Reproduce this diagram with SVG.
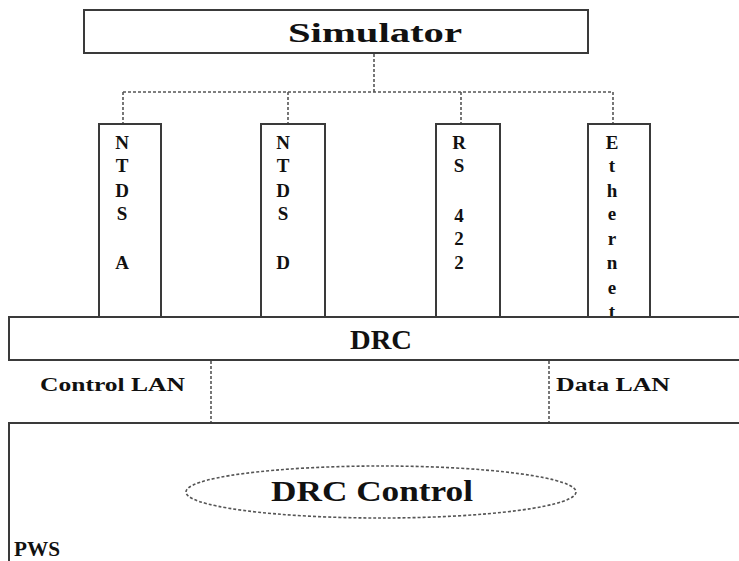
<svg xmlns="http://www.w3.org/2000/svg" width="739" height="561" viewBox="0 0 739 561">
  <style>
    .box { fill: #fff; stroke: #3a3a3a; stroke-width: 2; }
    .link { fill: none; stroke: #555; stroke-width: 1.6; stroke-dasharray: 3 2; }
    .t { font-family: "Liberation Serif", "DejaVu Serif", serif; font-weight: bold; fill: #111; }
    .col { font-size: 19px; }
  </style>
  <rect width="739" height="561" fill="#fff"/>

  <!-- connectors -->
  <g id="connectors">
    <path class="link" d="M374 54 V92 M123 92 H613 M123 92 V124 M288 92 V124 M461 92 V124 M613 92 V124"/>
    <path class="link" d="M211 361 V423 M549 361 V423"/>
  </g>

  <g id="simulator">
    <rect class="box" x="84" y="10" width="504" height="43"/>
    <text class="t" x="375" y="42" font-size="28" text-anchor="middle" textLength="174" lengthAdjust="spacingAndGlyphs">Simulator</text>
  </g>

  <g id="ntds-a">
    <rect class="box" x="99" y="124" width="62" height="193"/>
    <text class="t col" text-anchor="middle">
      <tspan x="122" y="149">N</tspan><tspan x="122" y="172">T</tspan><tspan x="122" y="197">D</tspan><tspan x="122" y="220">S</tspan><tspan x="122" y="269">A</tspan>
    </text>
  </g>

  <g id="ntds-d">
    <rect class="box" x="261" y="124" width="64" height="193"/>
    <text class="t col" text-anchor="middle">
      <tspan x="283" y="149">N</tspan><tspan x="283" y="172">T</tspan><tspan x="283" y="197">D</tspan><tspan x="283" y="220">S</tspan><tspan x="283" y="269">D</tspan>
    </text>
  </g>

  <g id="rs422">
    <rect class="box" x="436" y="124" width="64" height="193"/>
    <text class="t col" text-anchor="middle">
      <tspan x="459" y="149">R</tspan><tspan x="459" y="172">S</tspan><tspan x="459" y="222">4</tspan><tspan x="459" y="245">2</tspan><tspan x="459" y="269">2</tspan>
    </text>
  </g>

  <g id="ethernet">
    <rect class="box" x="588" y="124" width="62" height="193"/>
    <text class="t col" text-anchor="middle">
      <tspan x="612" y="149">E</tspan><tspan x="612" y="172">t</tspan><tspan x="612" y="197">h</tspan><tspan x="612" y="220">e</tspan><tspan x="612" y="245">r</tspan><tspan x="612" y="269">n</tspan><tspan x="612" y="294">e</tspan><tspan x="612" y="318">t</tspan>
    </text>
  </g>

  <g id="drc">
    <rect class="box" x="9" y="317" width="740" height="43"/>
    <text class="t" x="381" y="349" font-size="27" text-anchor="middle" textLength="62" lengthAdjust="spacingAndGlyphs">DRC</text>
  </g>

  <g id="lan-labels">
    <text class="t" x="40" y="391" font-size="18" textLength="145" lengthAdjust="spacingAndGlyphs">Control LAN</text>
    <text class="t" x="556" y="391" font-size="18" textLength="114" lengthAdjust="spacingAndGlyphs">Data LAN</text>
  </g>

  <g id="pws">
    <rect class="box" x="9" y="423" width="740" height="150"/>
    <ellipse cx="381" cy="492" rx="195" ry="26" fill="none" stroke="#555" stroke-width="1.6" stroke-dasharray="3 2"/>
    <text class="t" x="372" y="501" font-size="30" text-anchor="middle" textLength="202" lengthAdjust="spacingAndGlyphs">DRC Control</text>
    <text class="t" x="14" y="556" font-size="21" textLength="46" lengthAdjust="spacingAndGlyphs">PWS</text>
  </g>
</svg>
